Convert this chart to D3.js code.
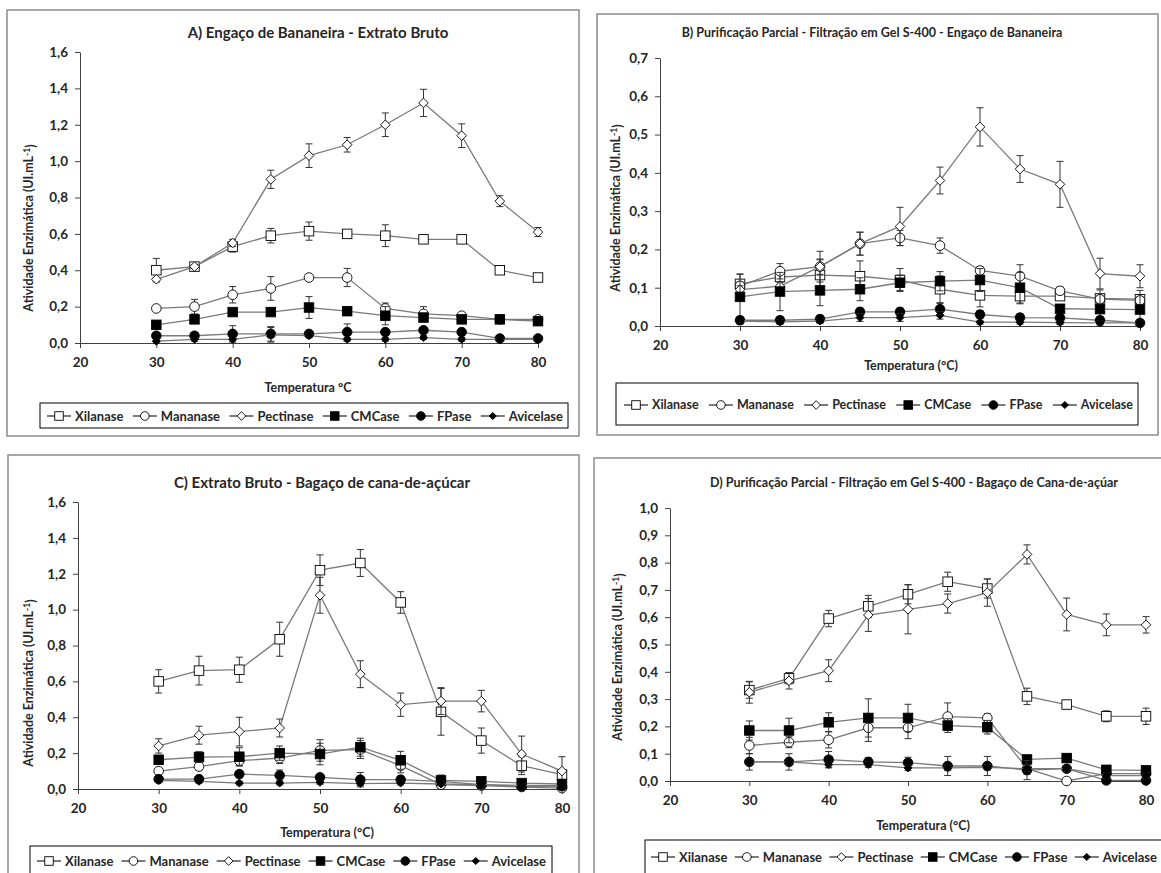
<!DOCTYPE html>
<html>
<head>
<meta charset="utf-8">
<script src="https://cdn.jsdelivr.net/npm/d3@7"></script>
<style>
  body { margin: 0; background: #fff; }
  svg text { font-family: Lato, "Open Sans", sans-serif; fill: #262626; }
</style>
</head>
<body>
<svg id="chart" width="1161" height="873"></svg>
<script>
// ---------- data ----------
const temps = [30, 35, 40, 45, 50, 55, 60, 65, 70, 75, 80];
const seriesNames = ["Xilanase", "Mananase", "Pectinase", "CMCase", "FPase", "Avicelase"];
const xTicks = [20, 30, 40, 50, 60, 70, 80];

// A) Engaço de Bananeira - Extrato Bruto
const titleA = "A) Engaço de Bananeira - Extrato Bruto";
const yTicksA = [0, 0.2, 0.4, 0.6, 0.8, 1.0, 1.2, 1.4, 1.6];
const valuesA = [
  [0.40, 0.42, 0.53, 0.59, 0.615, 0.60, 0.59, 0.57, 0.57, 0.40, 0.36],
  [0.19, 0.20, 0.265, 0.30, 0.36, 0.36, 0.19, 0.16, 0.15, 0.13, 0.13],
  [0.35, 0.42, 0.55, 0.90, 1.03, 1.09, 1.20, 1.32, 1.14, 0.78, 0.61],
  [0.10, 0.13, 0.17, 0.17, 0.195, 0.175, 0.15, 0.14, 0.13, 0.13, 0.12],
  [0.04, 0.04, 0.05, 0.05, 0.05, 0.06, 0.06, 0.07, 0.06, 0.025, 0.025],
  [0.01, 0.02, 0.02, 0.045, 0.04, 0.02, 0.02, 0.03, 0.02, 0.02, 0.02]
];
const errorsA = [
  [0.065, 0.01, 0.03, 0.04, 0.05, 0.02, 0.06, 0.01, 0.01, 0.01, 0.01],
  [0.01, 0.04, 0.045, 0.065, 0.01, 0.05, 0.03, 0.04, 0.01, 0.01, 0.01],
  [0.01, 0.01, 0.02, 0.05, 0.065, 0.04, 0.065, 0.075, 0.065, 0.03, 0.025],
  [0.01, 0.01, 0.01, 0.01, 0.06, 0.01, 0.05, 0.01, 0.01, 0.01, 0.01],
  [0.01, 0.01, 0.045, 0.04, 0.01, 0.045, 0.01, 0.01, 0.01, 0.01, 0.01],
  [0.005, 0.01, 0.01, 0.04, 0.01, 0.01, 0.01, 0.01, 0.01, 0.01, 0.01]
];

// B) Purificação Parcial - Engaço de Bananeira
const titleB = "B) Purificação Parcial - Filtração em Gel S-400 - Engaço de Bananeira";
const yTicksB = [0, 0.1, 0.2, 0.3, 0.4, 0.5, 0.6, 0.7];
const valuesB = [
  [0.11, 0.128, 0.133, 0.13, 0.12, 0.096, 0.08, 0.078, 0.078, 0.072, 0.07],
  [0.105, 0.143, 0.155, 0.215, 0.23, 0.21, 0.145, 0.13, 0.092, 0.07, 0.067],
  [0.095, 0.104, 0.155, 0.215, 0.26, 0.38, 0.52, 0.41, 0.37, 0.137, 0.13],
  [0.076, 0.09, 0.093, 0.096, 0.113, 0.117, 0.12, 0.10, 0.045, 0.044, 0.043],
  [0.015, 0.015, 0.018, 0.037, 0.037, 0.044, 0.03, 0.022, 0.021, 0.015, 0.008],
  [0.013, 0.011, 0.013, 0.022, 0.022, 0.028, 0.01, 0.01, 0.009, 0.008, 0.008]
];
const errorsB = [
  [0.025, 0.02, 0.04, 0.04, 0.03, 0.035, 0.03, 0.02, 0.01, 0.01, 0.01],
  [0.01, 0.02, 0.02, 0.03, 0.02, 0.02, 0.01, 0.03, 0.01, 0.01, 0.01],
  [0.01, 0.01, 0.04, 0.03, 0.05, 0.035, 0.05, 0.035, 0.06, 0.04, 0.03],
  [0.06, 0.05, 0.04, 0.03, 0.02, 0.025, 0.03, 0.04, 0.01, 0.05, 0.05],
  [0.01, 0.01, 0.01, 0.01, 0.01, 0.015, 0.01, 0.01, 0.01, 0.01, 0.005],
  [0.005, 0.005, 0.005, 0.01, 0.01, 0.01, 0.005, 0.005, 0.005, 0.005, 0.005]
];

// C) Extrato Bruto - Bagaço de cana-de-açúcar
const titleC = "C) Extrato Bruto - Bagaço de cana-de-açúcar";
const yTicksC = [0, 0.2, 0.4, 0.6, 0.8, 1.0, 1.2, 1.4, 1.6];
const valuesC = [
  [0.60, 0.66, 0.665, 0.835, 1.22, 1.26, 1.04, 0.43, 0.27, 0.13, 0.08],
  [0.10, 0.125, 0.158, 0.172, 0.215, 0.22, 0.13, 0.024, 0.019, 0.011, 0.005],
  [0.24, 0.30, 0.32, 0.34, 1.08, 0.64, 0.47, 0.49, 0.49, 0.195, 0.10],
  [0.163, 0.178, 0.18, 0.20, 0.195, 0.233, 0.16, 0.048, 0.043, 0.033, 0.028],
  [0.055, 0.055, 0.083, 0.076, 0.065, 0.052, 0.052, 0.043, 0.024, 0.015, 0.015],
  [0.048, 0.043, 0.033, 0.033, 0.037, 0.03, 0.033, 0.028, 0.024, 0.02, 0.018]
];
const errorsC = [
  [0.065, 0.08, 0.07, 0.095, 0.085, 0.075, 0.06, 0.13, 0.07, 0.05, 0.03],
  [0.01, 0.02, 0.03, 0.03, 0.06, 0.05, 0.04, 0.02, 0.01, 0.005, 0.005],
  [0.04, 0.05, 0.08, 0.05, 0.10, 0.075, 0.065, 0.075, 0.06, 0.10, 0.08],
  [0.01, 0.03, 0.05, 0.04, 0.06, 0.05, 0.05, 0.03, 0.02, 0.01, 0.01],
  [0.01, 0.01, 0.02, 0.03, 0.02, 0.04, 0.02, 0.02, 0.01, 0.01, 0.01],
  [0.01, 0.01, 0.01, 0.01, 0.01, 0.01, 0.01, 0.01, 0.01, 0.01, 0.01]
];

// D) Purificação Parcial - Bagaço de Cana-de-açúar
const titleD = "D) Purificação Parcial - Filtração em Gel S-400 - Bagaço de Cana-de-açúar";
const yTicksD = [0, 0.1, 0.2, 0.3, 0.4, 0.5, 0.6, 0.7, 0.8, 0.9, 1.0];
const valuesD = [
  [0.333, 0.376, 0.595, 0.64, 0.684, 0.73, 0.705, 0.31, 0.28, 0.237, 0.237],
  [0.13, 0.142, 0.151, 0.195, 0.195, 0.236, 0.231, 0.045, 0.0, 0.027, 0.027],
  [0.325, 0.367, 0.404, 0.608, 0.629, 0.65, 0.69, 0.83, 0.61, 0.572, 0.572],
  [0.185, 0.185, 0.215, 0.231, 0.231, 0.203, 0.197, 0.079, 0.084, 0.041, 0.039],
  [0.07, 0.07, 0.078, 0.07, 0.067, 0.055, 0.055, 0.04, 0.045, 0.002, 0.002],
  [0.07, 0.07, 0.06, 0.06, 0.048, 0.048, 0.05, 0.045, 0.045, 0.02, 0.02]
];
const errorsD = [
  [0.03, 0.02, 0.03, 0.04, 0.035, 0.035, 0.035, 0.03, 0.015, 0.02, 0.03],
  [0.03, 0.02, 0.03, 0.05, 0.04, 0.05, 0.015, 0.02, 0.005, 0.01, 0.01],
  [0.04, 0.03, 0.04, 0.06, 0.09, 0.035, 0.05, 0.035, 0.06, 0.04, 0.03],
  [0.035, 0.045, 0.035, 0.07, 0.05, 0.025, 0.025, 0.01, 0.01, 0.01, 0.01],
  [0.03, 0.03, 0.03, 0.015, 0.02, 0.035, 0.035, 0.035, 0.01, 0.005, 0.005],
  [0.01, 0.01, 0.01, 0.01, 0.01, 0.01, 0.01, 0.01, 0.01, 0.01, 0.01]
];

// ---------- layout of the four panels ----------
const panels = [
  { title: titleA, values: valuesA, errors: errorsA, yTicks: yTicksA, xLabel: "Temperatura °C",
    box: [7, 10, 579, 436], x0: 80, x1: 538, y0: 343, y1: 52, titleSize: 15, titleX: 318, titleY: 38,
    yLabelX: 29, yLabelY: 228, xLabelX: 308, xLabelY: 392,
    legBox: [40, 403, 568, 428], legSpan: [47, 563], legY: 416, legSize: 13 },
  { title: titleB, values: valuesB, errors: errorsB, yTicks: yTicksB, xLabel: "Temperatura (°C)",
    box: [597, 14, 1158, 435], x0: 660, x1: 1140, y0: 326, y1: 58, titleSize: 12.5, titleX: 872, titleY: 37,
    yLabelX: 616, yLabelY: 208, xLabelX: 911, xLabelY: 370,
    legBox: [616, 383, 1138, 425], legSpan: [624, 1133], legY: 405, legSize: 12.5 },
  { title: titleC, values: valuesC, errors: errorsC, yTicks: yTicksC, xLabel: "Temperatura (°C)",
    box: [8, 455, 579, 890], x0: 78, x1: 562, y0: 789, y1: 502, titleSize: 15, titleX: 322, titleY: 488,
    yLabelX: 29, yLabelY: 683, xLabelX: 327, xLabelY: 837,
    legBox: [30, 846, 552, 890], legSpan: [37, 546], legY: 861, legSize: 13 },
  { title: titleD, values: valuesD, errors: errorsD, yTicks: yTicksD, xLabel: "Temperatura (°C)",
    box: [594, 458, 1180, 890], x0: 670, x1: 1146, y0: 781, y1: 508, titleSize: 12.5, titleX: 914, titleY: 487,
    yLabelX: 618, yLabelY: 657, xLabelX: 923, xLabelY: 830,
    legBox: [645, 840, 1180, 890], legSpan: [651, 1157], legY: 857, legSize: 13 }
];

const lineColor = "#7a7a7a";
const fmt = v => v.toFixed(1).replace(".", ",");

// marker shapes, by series index: open square, open circle, open diamond,
// filled square, filled circle, small filled diamond
function drawMarker(sel, i, k) {
  const open = i < 3;
  let m;
  if (i === 0 || i === 3) {
    const s = 9.5 * k;
    m = sel.append("rect").attr("x", -s / 2).attr("y", -s / 2).attr("width", s).attr("height", s);
  } else if (i === 1 || i === 4) {
    m = sel.append("circle").attr("r", 4.8 * k);
  } else {
    const h = (i === 2 ? 4.8 : 4) * k;
    m = sel.append("path").attr("d", `M0,${-h}L${h},0L0,${h}L${-h},0Z`);
  }
  m.attr("fill", open ? "#fff" : "#000").attr("stroke", "#000").attr("stroke-width", 0.9);
}

const svg = d3.select("#chart");

panels.forEach(p => {
  const g = svg.append("g");

  // outer frame
  g.append("rect")
    .attr("x", p.box[0]).attr("y", p.box[1])
    .attr("width", p.box[2] - p.box[0]).attr("height", p.box[3] - p.box[1])
    .attr("fill", "none").attr("stroke", "#8c8c8c").attr("stroke-width", 1.5);

  const x = d3.scaleLinear().domain([20, 80]).range([p.x0, p.x1]);
  const y = d3.scaleLinear().domain([0, d3.max(p.yTicks)]).range([p.y0, p.y1]);

  // title
  g.append("text")
    .attr("x", p.titleX).attr("y", p.titleY)
    .attr("text-anchor", "middle")
    .style("font-size", p.titleSize + "px")
    .style("font-weight", "bold")
    .text(p.title);

  // axes
  const xAxis = g.append("g")
    .attr("transform", "translate(0," + p.y0 + ")")
    .call(d3.axisBottom(x).tickValues(xTicks).tickSize(5).tickSizeOuter(0).tickPadding(9));
  const yAxis = g.append("g")
    .attr("transform", "translate(" + p.x0 + ",0)")
    .call(d3.axisLeft(y).tickValues(p.yTicks).tickFormat(fmt).tickSize(5).tickSizeOuter(0).tickPadding(7));
  [xAxis, yAxis].forEach(a => {
    a.attr("font-family", null).attr("font-size", null);
    a.selectAll("path, line").attr("stroke", "#404040");
    a.selectAll("text").style("font-size", "13.5px").style("font-weight", "bold").attr("fill", "#262626");
  });

  // axis labels
  g.append("text")
    .attr("x", p.xLabelX).attr("y", p.xLabelY)
    .attr("text-anchor", "middle")
    .style("font-size", "12.5px").style("font-weight", "bold")
    .text(p.xLabel);

  const yl = g.append("text")
    .attr("transform", `translate(${p.yLabelX},${p.yLabelY}) rotate(-90)`)
    .attr("text-anchor", "middle")
    .attr("dy", "0.35em")
    .style("font-size", "12.5px").style("font-weight", "bold");
  yl.append("tspan").text("Atividade Enzimática (UI.mL");
  yl.append("tspan").attr("dy", "-0.4em").style("font-size", "8.5px").text("-1");
  yl.append("tspan").attr("dy", "0.4em").text(")");

  // series: line, error bars, markers
  const line = d3.line().x((d, j) => x(temps[j])).y(d => y(d));
  p.values.forEach((vals, i) => {
    const sg = g.append("g");
    sg.append("path").attr("d", line(vals))
      .attr("fill", "none").attr("stroke", lineColor).attr("stroke-width", 1.3);

    const eb = sg.selectAll(".err").data(vals).enter().append("g");
    eb.append("line")
      .attr("x1", (d, j) => x(temps[j])).attr("x2", (d, j) => x(temps[j]))
      .attr("y1", (d, j) => y(Math.max(0, d - p.errors[i][j])))
      .attr("y2", (d, j) => y(d + p.errors[i][j]));
    eb.append("line")
      .attr("x1", (d, j) => x(temps[j]) - 3.5).attr("x2", (d, j) => x(temps[j]) + 3.5)
      .attr("y1", (d, j) => y(d + p.errors[i][j])).attr("y2", (d, j) => y(d + p.errors[i][j]));
    eb.append("line")
      .attr("x1", (d, j) => x(temps[j]) - 3.5).attr("x2", (d, j) => x(temps[j]) + 3.5)
      .attr("y1", (d, j) => y(Math.max(0, d - p.errors[i][j]))).attr("y2", (d, j) => y(Math.max(0, d - p.errors[i][j])));
    eb.selectAll("line").attr("stroke", "#333").attr("stroke-width", 1);

    vals.forEach((v, j) => {
      const mg = sg.append("g").attr("transform", `translate(${x(temps[j])},${y(v)})`);
      drawMarker(mg, i, 1);
    });
  });

  // legend
  const lg = g.append("g");
  lg.append("rect")
    .attr("x", p.legBox[0]).attr("y", p.legBox[1])
    .attr("width", p.legBox[2] - p.legBox[0]).attr("height", p.legBox[3] - p.legBox[1])
    .attr("fill", "#fff").attr("stroke", "#000").attr("stroke-width", 1);

  const items = seriesNames.map((name, i) => {
    const it = lg.append("g");
    it.append("line").attr("x1", 0).attr("x2", 24).attr("stroke", "#333").attr("stroke-width", 1.3);
    drawMarker(it.append("g").attr("transform", "translate(12,0)"), i, 0.9);
    const t = it.append("text").attr("x", 28).attr("dy", "0.35em")
      .style("font-size", p.legSize + "px").style("font-weight", "bold").text(name);
    return { it: it, w: 28 + t.node().getComputedTextLength() };
  });
  const total = d3.sum(items, d => d.w);
  const gap = (p.legSpan[1] - p.legSpan[0] - total) / (items.length - 1);
  let cx = p.legSpan[0];
  items.forEach(d => {
    d.it.attr("transform", `translate(${cx},${p.legY})`);
    cx += d.w + gap;
  });
});
</script>
</body>
</html>
